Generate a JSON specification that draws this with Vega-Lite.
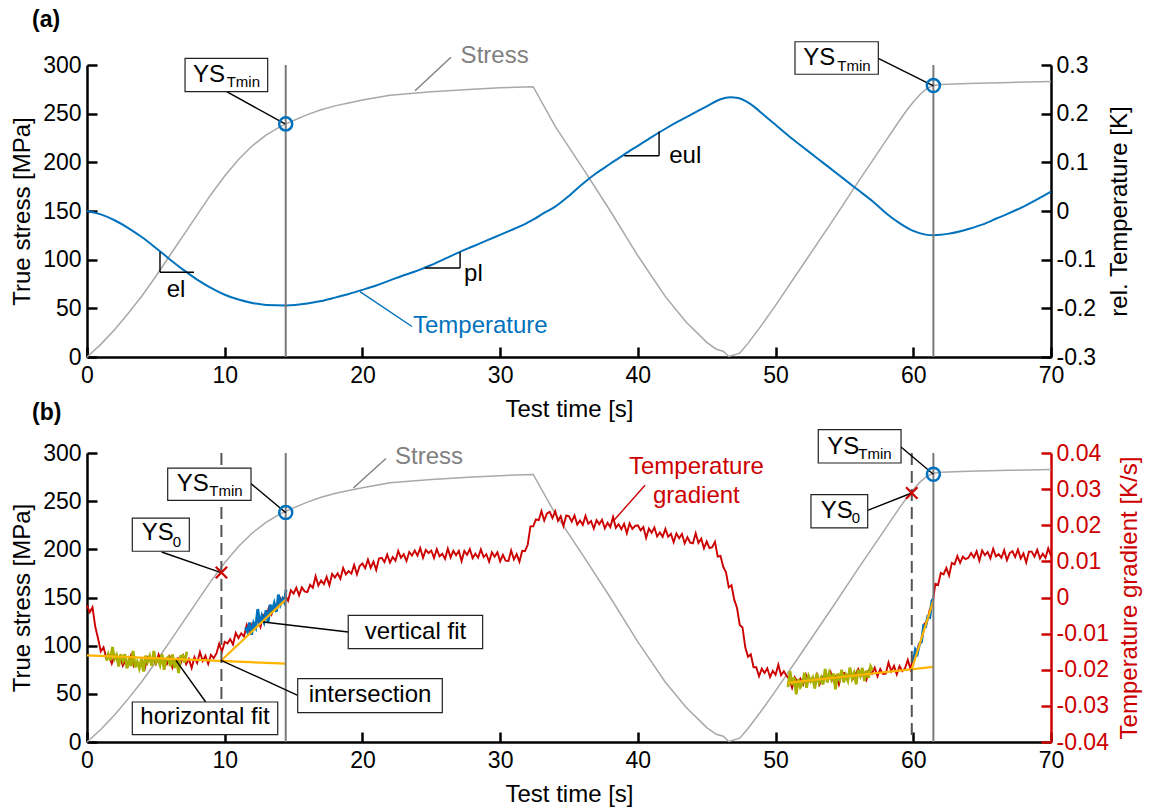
{
  "$schema": "https://vega.github.io/schema/vega-lite/v6.json",
  "autosize": {"type": "pad"},
  "padding": {"left": 10, "top": 9, "right": 5, "bottom": 5},
  "background": "white",
  "config": {
    "font": "Liberation Sans",
    "view": {"stroke": null},
    "axis": {"grid": false, "domainColor": "black", "domainWidth": 2.5, "tickColor": "black", "tickWidth": 2.5, "tickSize": -10, "labelFontSize": 23, "labelColor": "black", "titleFontSize": 24, "titleFontWeight": "normal", "titleColor": "black", "labelFlush": false, "labelOverlap": false},
    "axisX": {"labelPadding": 17, "titlePadding": 10},
    "title": {"fontSize": 23, "fontWeight": "bold", "color": "black", "anchor": "start", "frame": "group"}
  },
  "datasets": {
    "stress": [{"t":0,"s":0},{"t":1,"s":13},{"t":2,"s":28},{"t":3,"s":45},{"t":4,"s":63},{"t":5,"s":83},{"t":6,"s":104},{"t":7,"s":125},{"t":8,"s":146},{"t":9,"s":167},{"t":10,"s":186},{"t":11,"s":203},{"t":12,"s":217},{"t":13,"s":228},{"t":14,"s":236.5},{"t":14.45,"s":239.5},{"t":15,"s":243},{"t":16,"s":249},{"t":17,"s":254},{"t":18,"s":258},{"t":19,"s":261},{"t":20,"s":264},{"t":22,"s":269},{"t":25,"s":272.5},{"t":28,"s":275},{"t":30,"s":276.5},{"t":32.4,"s":277.7},{"t":34,"s":237},{"t":36,"s":194},{"t":38,"s":150},{"t":40,"s":104},{"t":42,"s":62},{"t":43.5,"s":36},{"t":45,"s":15},{"t":45.7,"s":8},{"t":46.2,"s":6},{"t":46.6,"s":0.5},{"t":47.4,"s":4},{"t":48,"s":14},{"t":49,"s":33},{"t":50,"s":53},{"t":52,"s":95},{"t":54,"s":137},{"t":56,"s":180},{"t":58,"s":222},{"t":59,"s":243},{"t":59.5,"s":253},{"t":60,"s":262},{"t":60.5,"s":270},{"t":61,"s":276},{"t":61.46,"s":279},{"t":62,"s":280},{"t":64,"s":281},{"t":67,"s":282},{"t":70,"s":283}],
    "temp": [{"t":0,"T":0},{"t":1,"T":-0.007},{"t":2,"T":-0.019},{"t":3,"T":-0.035},{"t":4,"T":-0.054},{"t":5,"T":-0.076},{"t":6,"T":-0.099},{"t":7,"T":-0.121},{"t":8,"T":-0.141},{"t":9,"T":-0.158},{"t":10,"T":-0.172},{"t":11,"T":-0.182},{"t":12,"T":-0.189},{"t":13,"T":-0.193},{"t":14.45,"T":-0.194},{"t":16,"T":-0.19},{"t":17,"T":-0.185},{"t":18,"T":-0.178},{"t":19,"T":-0.1705},{"t":20,"T":-0.162},{"t":21,"T":-0.153},{"t":22,"T":-0.1425},{"t":23,"T":-0.132},{"t":24,"T":-0.1225},{"t":25,"T":-0.111},{"t":26,"T":-0.098},{"t":27,"T":-0.085},{"t":28,"T":-0.073},{"t":29,"T":-0.061},{"t":30,"T":-0.049},{"t":31,"T":-0.037},{"t":31.8,"T":-0.027},{"t":32.5,"T":-0.016},{"t":33.2,"T":-0.004},{"t":34,"T":0.009},{"t":35,"T":0.031},{"t":36,"T":0.056},{"t":37,"T":0.078},{"t":38,"T":0.097},{"t":39,"T":0.116},{"t":40,"T":0.134},{"t":41,"T":0.152},{"t":42,"T":0.169},{"t":43,"T":0.185},{"t":44,"T":0.2},{"t":45,"T":0.215},{"t":46,"T":0.2295},{"t":46.7,"T":0.2337},{"t":47.3,"T":0.232},{"t":47.9,"T":0.2247},{"t":48.5,"T":0.213},{"t":49,"T":0.201},{"t":50,"T":0.177},{"t":51,"T":0.153},{"t":52,"T":0.131},{"t":53,"T":0.109},{"t":54,"T":0.087},{"t":55,"T":0.065},{"t":56,"T":0.043},{"t":57,"T":0.021},{"t":58,"T":-0.004},{"t":59,"T":-0.025},{"t":60,"T":-0.041},{"t":60.8,"T":-0.048},{"t":61.46,"T":-0.05},{"t":62,"T":-0.049},{"t":62.5,"T":-0.047},{"t":63.5,"T":-0.041},{"t":64,"T":-0.037},{"t":65,"T":-0.028},{"t":66,"T":-0.016},{"t":67,"T":-0.004},{"t":68,"T":0.009},{"t":69,"T":0.024},{"t":70,"T":0.04}],
    "grad": [{"t":0,"g":-0.0022},{"t":0.2,"g":-0.0041},{"t":0.4,"g":-0.0027},{"t":0.6,"g":-0.0081},{"t":0.8,"g":-0.0113},{"t":1,"g":-0.0149},{"t":1.2,"g":-0.0138},{"t":1.4,"g":-0.0167},{"t":1.6,"g":-0.0161},{"t":1.8,"g":-0.0183},{"t":2,"g":-0.0161},{"t":2.2,"g":-0.0174},{"t":2.4,"g":-0.0163},{"t":2.6,"g":-0.0189},{"t":2.8,"g":-0.0174},{"t":3,"g":-0.0187},{"t":3.2,"g":-0.016},{"t":3.4,"g":-0.019},{"t":3.6,"g":-0.0179},{"t":3.8,"g":-0.0191},{"t":4,"g":-0.0173},{"t":4.2,"g":-0.0196},{"t":4.4,"g":-0.0166},{"t":4.6,"g":-0.0177},{"t":4.8,"g":-0.0166},{"t":5,"g":-0.0184},{"t":5.2,"g":-0.0158},{"t":5.4,"g":-0.0179},{"t":5.6,"g":-0.0174},{"t":5.8,"g":-0.0185},{"t":6,"g":-0.0165},{"t":6.2,"g":-0.0194},{"t":6.4,"g":-0.0174},{"t":6.6,"g":-0.0168},{"t":6.8,"g":-0.0183},{"t":7,"g":-0.0161},{"t":7.2,"g":-0.0185},{"t":7.4,"g":-0.017},{"t":7.6,"g":-0.0195},{"t":7.8,"g":-0.0165},
{"t":8,"g":-0.0181},{"t":8.2,"g":-0.0151},{"t":8.4,"g":-0.0176},{"t":8.6,"g":-0.0161},{"t":8.8,"g":-0.0184},{"t":9,"g":-0.0159},{"t":9.2,"g":-0.0168},{"t":9.4,"g":-0.0155},{"t":9.6,"g":-0.0128},{"t":9.8,"g":-0.015},{"t":10,"g":-0.0123},{"t":10.2,"g":-0.0127},{"t":10.4,"g":-0.0115},{"t":10.6,"g":-0.013},{"t":10.8,"g":-0.0098},{"t":11,"g":-0.0112},{"t":11.2,"g":-0.0099},{"t":11.4,"g":-0.0108},{"t":11.6,"g":-0.0076},{"t":11.8,"g":-0.0095},{"t":12,"g":-0.0072},{"t":12.2,"g":-0.0078},{"t":12.4,"g":-0.006},{"t":12.6,"g":-0.0082},{"t":12.8,"g":-0.0048},{"t":13,"g":-0.0052},{"t":13.2,"g":-0.0029},{"t":13.4,"g":-0.0047},{"t":13.6,"g":-0.0028},{"t":13.8,"g":-0.0032},{"t":14,"g":0},{"t":14.2,"g":-0.0012},{"t":14.4,"g":0.0006},{"t":14.6,"g":-0.0009},{"t":14.8,"g":0.002},{"t":15,"g":0.0011},{"t":15.2,"g":0.0027},{"t":15.4,"g":0.0006},{"t":15.6,"g":0.0028},{"t":15.8,"g":0.0017},
{"t":16,"g":0.0015},{"t":16.2,"g":0.0035},{"t":16.4,"g":0.0027},{"t":16.6,"g":0.0059},{"t":16.8,"g":0.0033},{"t":17,"g":0.0047},{"t":17.2,"g":0.0037},{"t":17.4,"g":0.0057},{"t":17.6,"g":0.0034},{"t":17.8,"g":0.0065},{"t":18,"g":0.0055},{"t":18.2,"g":0.0067},{"t":18.4,"g":0.0052},{"t":18.6,"g":0.0082},{"t":18.8,"g":0.0064},{"t":19,"g":0.0073},{"t":19.2,"g":0.0066},{"t":19.4,"g":0.009},{"t":19.6,"g":0.0064},{"t":19.8,"g":0.0087},{"t":20,"g":0.0094},{"t":20.2,"g":0.0081},{"t":20.4,"g":0.0105},{"t":20.6,"g":0.0082},{"t":20.8,"g":0.0099},{"t":21,"g":0.0076},{"t":21.2,"g":0.0108},{"t":21.4,"g":0.011},{"t":21.6,"g":0.0098},{"t":21.8,"g":0.0119},{"t":22,"g":0.0097},{"t":22.2,"g":0.0112},{"t":22.4,"g":0.0102},{"t":22.6,"g":0.0129},{"t":22.8,"g":0.011},{"t":23,"g":0.012},{"t":23.2,"g":0.0101},{"t":23.4,"g":0.0126},{"t":23.6,"g":0.0116},{"t":23.8,"g":0.013},
{"t":24,"g":0.0116},{"t":24.2,"g":0.0137},{"t":24.4,"g":0.011},{"t":24.6,"g":0.0132},{"t":24.8,"g":0.0123},{"t":25,"g":0.013},{"t":25.2,"g":0.0109},{"t":25.4,"g":0.0134},{"t":25.6,"g":0.0114},{"t":25.8,"g":0.0121},{"t":26,"g":0.0107},{"t":26.2,"g":0.0135},{"t":26.4,"g":0.0111},{"t":26.6,"g":0.0129},{"t":26.8,"g":0.0117},{"t":27,"g":0.0129},{"t":27.2,"g":0.0101},{"t":27.4,"g":0.0129},{"t":27.6,"g":0.0118},{"t":27.8,"g":0.0134},{"t":28,"g":0.0109},{"t":28.2,"g":0.0121},{"t":28.4,"g":0.011},{"t":28.6,"g":0.0133},{"t":28.8,"g":0.0112},{"t":29,"g":0.012},{"t":29.2,"g":0.0099},{"t":29.4,"g":0.0125},{"t":29.6,"g":0.0113},{"t":29.8,"g":0.0125},{"t":30,"g":0.01},{"t":30.2,"g":0.0118},{"t":30.4,"g":0.0102},{"t":30.6,"g":0.0101},{"t":30.8,"g":0.013},{"t":31,"g":0.0105},{"t":31.2,"g":0.012},{"t":31.4,"g":0.0099},{"t":31.6,"g":0.0129},{"t":31.8,"g":0.0128},
{"t":32,"g":0.0146},{"t":32.2,"g":0.0197},{"t":32.4,"g":0.0197},{"t":32.6,"g":0.0216},{"t":32.8,"g":0.0214},{"t":33,"g":0.0239},{"t":33.2,"g":0.0213},{"t":33.4,"g":0.0233},{"t":33.6,"g":0.0237},{"t":33.8,"g":0.022},{"t":34,"g":0.0239},{"t":34.2,"g":0.0212},{"t":34.4,"g":0.0225},{"t":34.6,"g":0.0198},{"t":34.8,"g":0.0227},{"t":35,"g":0.0225},{"t":35.2,"g":0.021},{"t":35.4,"g":0.0227},{"t":35.6,"g":0.0202},{"t":35.8,"g":0.0213},{"t":36,"g":0.0201},{"t":36.2,"g":0.0226},{"t":36.4,"g":0.0204},{"t":36.6,"g":0.0212},{"t":36.8,"g":0.0191},{"t":37,"g":0.0214},{"t":37.2,"g":0.0203},{"t":37.4,"g":0.0215},{"t":37.6,"g":0.0191},{"t":37.8,"g":0.0207},{"t":38,"g":0.0195},{"t":38.2,"g":0.0223},{"t":38.4,"g":0.0193},{"t":38.6,"g":0.0203},{"t":38.8,"g":0.0189},{"t":39,"g":0.0204},{"t":39.2,"g":0.0178},{"t":39.4,"g":0.0205},{"t":39.6,"g":0.019},{"t":39.8,"g":0.0198},
{"t":40,"g":0.02},{"t":40.2,"g":0.0186},{"t":40.4,"g":0.0195},{"t":40.6,"g":0.0165},{"t":40.8,"g":0.0191},{"t":41,"g":0.0179},{"t":41.2,"g":0.0194},{"t":41.4,"g":0.0169},{"t":41.6,"g":0.018},{"t":41.8,"g":0.0168},{"t":42,"g":0.019},{"t":42.2,"g":0.0168},{"t":42.4,"g":0.0176},{"t":42.6,"g":0.0153},{"t":42.8,"g":0.0177},{"t":43,"g":0.0164},{"t":43.2,"g":0.0176},{"t":43.4,"g":0.015},{"t":43.6,"g":0.0167},{"t":43.8,"g":0.0152},{"t":44,"g":0.015},{"t":44.2,"g":0.0178},{"t":44.4,"g":0.0151},{"t":44.6,"g":0.0163},{"t":44.8,"g":0.0136},{"t":45,"g":0.0155},{"t":45.2,"g":0.0137},{"t":45.4,"g":0.0139},{"t":45.6,"g":0.0154},{"t":45.8,"g":0.0113},{"t":46,"g":0.0115},{"t":46.2,"g":0.0085},{"t":46.4,"g":0.007},{"t":46.6,"g":0.0028},{"t":46.8,"g":0.0034},{"t":47,"g":-0.0006},{"t":47.2,"g":-0.0029},{"t":47.4,"g":-0.0076},{"t":47.6,"g":-0.0083},{"t":47.8,"g":-0.0138},
{"t":48,"g":-0.0164},{"t":48.2,"g":-0.0157},{"t":48.4,"g":-0.0193},{"t":48.6,"g":-0.0193},{"t":48.8,"g":-0.0218},{"t":49,"g":-0.0197},{"t":49.2,"g":-0.0209},{"t":49.4,"g":-0.0196},{"t":49.6,"g":-0.022},{"t":49.8,"g":-0.0203},{"t":50,"g":-0.0214},{"t":50.2,"g":-0.0186},{"t":50.4,"g":-0.0215},{"t":50.6,"g":-0.0204},{"t":50.8,"g":-0.0217},{"t":51,"g":-0.0226},{"t":51.2,"g":-0.025},{"t":51.4,"g":-0.0221},{"t":51.6,"g":-0.0233},{"t":51.8,"g":-0.0224},{"t":52,"g":-0.0241},{"t":52.2,"g":-0.0213},{"t":52.4,"g":-0.0233},{"t":52.6,"g":-0.0226},{"t":52.8,"g":-0.0235},{"t":53,"g":-0.0213},{"t":53.2,"g":-0.024},{"t":53.4,"g":-0.022},{"t":53.6,"g":-0.0214},{"t":53.8,"g":-0.0229},{"t":54,"g":-0.0207},{"t":54.2,"g":-0.0231},{"t":54.4,"g":-0.0217},{"t":54.6,"g":-0.0241},{"t":54.8,"g":-0.021},{"t":55,"g":-0.0209},{"t":55.2,"g":-0.0222},{"t":55.4,"g":-0.0203},{"t":55.6,"g":-0.0226},{"t":55.8,"g":-0.0212},
{"t":56,"g":-0.0198},{"t":56.2,"g":-0.0217},{"t":56.4,"g":-0.0208},{"t":56.6,"g":-0.0228},{"t":56.8,"g":-0.0201},{"t":57,"g":-0.0211},{"t":57.2,"g":-0.0194},{"t":57.4,"g":-0.0218},{"t":57.6,"g":-0.0198},{"t":57.8,"g":-0.0212},{"t":58,"g":-0.0211},{"t":58.2,"g":-0.018},{"t":58.4,"g":-0.0204},{"t":58.6,"g":-0.0189},{"t":58.8,"g":-0.0213},{"t":59,"g":-0.019},{"t":59.2,"g":-0.0204},{"t":59.4,"g":-0.0196},{"t":59.6,"g":-0.0173},{"t":59.8,"g":-0.0198},{"t":60,"g":-0.0163},{"t":60.2,"g":-0.0156},{"t":60.4,"g":-0.013},{"t":60.6,"g":-0.0123},{"t":60.8,"g":-0.0073},{"t":61,"g":-0.0066},{"t":61.2,"g":-0.0033},{"t":61.4,"g":-0.0018},{"t":61.6,"g":0.0038},{"t":61.8,"g":0.0035},{"t":62,"g":0.0068},{"t":62.2,"g":0.0064},{"t":62.4,"g":0.0082},{"t":62.6,"g":0.0061},{"t":62.8,"g":0.0096},{"t":63,"g":0.0092},{"t":63.2,"g":0.0115},{"t":63.4,"g":0.0096},{"t":63.6,"g":0.0113},{"t":63.8,"g":0.0106},
{"t":64,"g":0.011},{"t":64.2,"g":0.0123},{"t":64.4,"g":0.0111},{"t":64.6,"g":0.0128},{"t":64.8,"g":0.0102},{"t":65,"g":0.013},{"t":65.2,"g":0.0117},{"t":65.4,"g":0.0126},{"t":65.6,"g":0.0108},{"t":65.8,"g":0.0135},{"t":66,"g":0.0114},{"t":66.2,"g":0.012},{"t":66.4,"g":0.011},{"t":66.6,"g":0.0131},{"t":66.8,"g":0.0103},{"t":67,"g":0.0123},{"t":67.2,"g":0.0128},{"t":67.4,"g":0.0112},{"t":67.6,"g":0.0133},{"t":67.8,"g":0.0108},{"t":68,"g":0.0122},{"t":68.2,"g":0.0097},{"t":68.4,"g":0.0127},{"t":68.6,"g":0.0127},{"t":68.8,"g":0.0113},{"t":69,"g":0.0132},{"t":69.2,"g":0.0108},{"t":69.4,"g":0.0121},{"t":69.6,"g":0.011},{"t":69.8,"g":0.0136},{"t":70,"g":0.0115}],
    "green": [{"seg":"L","t":1.4,"g":-0.0175},{"seg":"L","t":1.55,"g":-0.0157},{"seg":"L","t":1.7,"g":-0.0174},{"seg":"L","t":1.85,"g":-0.0137},{"seg":"L","t":2.0,"g":-0.017},{"seg":"L","t":2.15,"g":-0.0159},{"seg":"L","t":2.3,"g":-0.0191},{"seg":"L","t":2.45,"g":-0.0157},{"seg":"L","t":2.6,"g":-0.0175},{"seg":"L","t":2.75,"g":-0.0157},{"seg":"L","t":2.9,"g":-0.0196},{"seg":"L","t":3.05,"g":-0.0172},{"seg":"L","t":3.2,"g":-0.019},{"seg":"L","t":3.35,"g":-0.0148},{"seg":"L","t":3.5,"g":-0.0193},{"seg":"L","t":3.65,"g":-0.0178},{"seg":"L","t":3.8,"g":-0.0196},{"seg":"L","t":3.95,"g":-0.017},{"seg":"L","t":4.1,"g":-0.0205},{"seg":"L","t":4.25,"g":-0.0161},{"seg":"L","t":4.4,"g":-0.0179},{"seg":"L","t":4.55,"g":-0.0163},{"seg":"L","t":4.7,"g":-0.0189},{"seg":"L","t":4.85,"g":-0.0148},{"seg":"L","t":5.0,"g":-0.018},{"seg":"L","t":5.15,"g":-0.0171},{"seg":"L","t":5.3,"g":-0.0187},{"seg":"L","t":5.45,"g":-0.0157},{"seg":"L","t":5.6,"g":-0.02},{"seg":"L","t":5.75,"g":-0.0171},{"seg":"L","t":5.9,"g":-0.0165},{"seg":"L","t":6.05,"g":-0.019},{"seg":"L","t":6.2,"g":-0.0158},{"seg":"L","t":6.35,"g":-0.0195},{"seg":"L","t":6.5,"g":-0.0173},{"seg":"L","t":6.65,"g":-0.0209},{"seg":"L","t":6.8,"g":-0.0163},{"seg":"L","t":6.95,"g":-0.0161},{"seg":"L","t":7.1,"g":-0.018},{"seg":"L","t":7.25,"g":-0.015},
{"seg":"R","t":50.9,"g":-0.0248},{"seg":"R","t":51.05,"g":-0.0204},{"seg":"R","t":51.2,"g":-0.0242},{"seg":"R","t":51.35,"g":-0.0221},{"seg":"R","t":51.5,"g":-0.0268},{"seg":"R","t":51.65,"g":-0.0226},{"seg":"R","t":51.8,"g":-0.0248},{"seg":"R","t":51.95,"g":-0.0239},{"seg":"R","t":52.1,"g":-0.0208},{"seg":"R","t":52.25,"g":-0.025},{"seg":"R","t":52.4,"g":-0.0218},{"seg":"R","t":52.55,"g":-0.0232},{"seg":"R","t":52.7,"g":-0.0222},{"seg":"R","t":52.85,"g":-0.0252},{"seg":"R","t":53.0,"g":-0.021},{"seg":"R","t":53.15,"g":-0.0236},{"seg":"R","t":53.3,"g":-0.0222},{"seg":"R","t":53.45,"g":-0.0241},{"seg":"R","t":53.6,"g":-0.0198},{"seg":"R","t":53.75,"g":-0.0235},{"seg":"R","t":53.9,"g":-0.0209},{"seg":"R","t":54.05,"g":-0.0227},{"seg":"R","t":54.2,"g":-0.021},{"seg":"R","t":54.35,"g":-0.0254},{"seg":"R","t":54.5,"g":-0.0211},{"seg":"R","t":54.65,"g":-0.0226},{"seg":"R","t":54.8,"g":-0.02},{"seg":"R","t":54.95,"g":-0.0235},{"seg":"R","t":55.1,"g":-0.0215},{"seg":"R","t":55.25,"g":-0.023},{"seg":"R","t":55.4,"g":-0.0194},{"seg":"R","t":55.55,"g":-0.0224},{"seg":"R","t":55.7,"g":-0.0209},{"seg":"R","t":55.85,"g":-0.024},{"seg":"R","t":56.0,"g":-0.02},{"seg":"R","t":56.15,"g":-0.0216},{"seg":"R","t":56.3,"g":-0.0195},{"seg":"R","t":56.45,"g":-0.0231},{"seg":"R","t":56.6,"g":-0.0202},{"seg":"R","t":56.75,"g":-0.0222},{"seg":"R","t":56.9,"g":-0.0191},{"seg":"R","t":57.05,"g":-0.0202}],
    "blue": [{"seg":"L","t":11.5,"g":-0.0083},{"seg":"L","t":11.65,"g":-0.0095},{"seg":"L","t":11.8,"g":-0.0069},{"seg":"L","t":11.95,"g":-0.0103},{"seg":"L","t":12.1,"g":-0.0071},{"seg":"L","t":12.25,"g":-0.0083},{"seg":"L","t":12.4,"g":-0.0032},{"seg":"L","t":12.55,"g":-0.0074},{"seg":"L","t":12.7,"g":-0.0051},{"seg":"L","t":12.85,"g":-0.0067},{"seg":"L","t":13.0,"g":-0.0035},{"seg":"L","t":13.15,"g":-0.007},{"seg":"L","t":13.3,"g":-0.002},{"seg":"L","t":13.45,"g":-0.0036},{"seg":"L","t":13.6,"g":-0.0016},{"seg":"L","t":13.75,"g":-0.004},{"seg":"L","t":13.9,"g":0.0008},{"seg":"L","t":14.05,"g":-0.0019},{"seg":"L","t":14.2,"g":-0.0004},{"seg":"L","t":14.35,"g":-0.0015},{"seg":"L","t":14.45,"g":0.0022},
{"seg":"R","t":59.85,"g":-0.0177},{"seg":"R","t":60.0,"g":-0.0178},{"seg":"R","t":60.15,"g":-0.0145},{"seg":"R","t":60.3,"g":-0.0155},{"seg":"R","t":60.45,"g":-0.0128},{"seg":"R","t":60.6,"g":-0.0122},{"seg":"R","t":60.75,"g":-0.0078},{"seg":"R","t":60.9,"g":-0.008},{"seg":"R","t":61.05,"g":-0.0053},{"seg":"R","t":61.2,"g":-0.0055},{"seg":"R","t":61.35,"g":-0.0009},{"seg":"R","t":61.46,"g":-0.0004}],
    "fits": [{"t1":0,"g1":-0.016,"t2":14.43,"g2":-0.0183},{"t1":9.73,"g1":-0.0175,"t2":14.43,"g2":-0.0006},{"t1":50.9,"g1":-0.0236,"t2":61.46,"g2":-0.0192},{"t1":59.89,"g1":-0.0199,"t2":61.46,"g2":-0.0008}],
    "vlines": [{"p":"a","k":"solid","t":14.43},{"p":"a","k":"solid","t":61.46},{"p":"b","k":"solid","t":14.43},{"p":"b","k":"solid","t":61.46},{"p":"b","k":"dashed","t":9.76},{"p":"b","k":"dashed","t":59.89}],
    "boxes": [{"p":"a","t1":7.12,"t2":13.12,"s1":272.6,"s2":306.9},{"p":"a","t1":51.41,"t2":57.46,"s1":290.5,"s2":323.9},{"p":"b","t1":5.86,"t2":11.91,"s1":250.9,"s2":284.4},{"p":"b","t1":3.29,"t2":7.43,"s1":198,"s2":232.5},{"p":"b","t1":18.97,"t2":28.73,"s1":97.0,"s2":131.5},{"p":"b","t1":15.3,"t2":25.8,"s1":30.5,"s2":65.8},{"p":"b","t1":3.29,"t2":13.85,"s1":7.7,"s2":41.5},{"p":"b","t1":53.1,"t2":59.11,"s1":289.6,"s2":324.3},{"p":"b","t1":52.57,"t2":56.69,"s1":222.2,"s2":256.8}],
    "leaders": [{"p":"a","c":"box","t1":10.14,"s1":272.6,"t2":14.38,"s2":239.5},{"p":"a","c":"box","t1":57.46,"s1":306.9,"t2":61.46,"s2":278.5},{"p":"a","c":"box","t1":5.3,"s1":107.9,"t2":5.3,"s2":87.0},{"p":"a","c":"box","t1":5.3,"s1":87.0,"t2":7.77,"s2":87.0},{"p":"a","c":"box","t1":24.54,"s1":91.5,"t2":27.09,"s2":91.5},{"p":"a","c":"box","t1":27.09,"s1":91.5,"t2":27.09,"s2":107.9},{"p":"a","c":"box","t1":39.02,"s1":206.7,"t2":41.54,"s2":206.7},{"p":"a","c":"box","t1":41.54,"s1":206.7,"t2":41.54,"s2":231.6},{"p":"a","c":"stress","t1":23.82,"s1":273.6,"t2":26.43,"s2":307.9},{"p":"a","c":"temp","t1":19.82,"s1":67.2,"t2":23.6,"s2":31.3},
{"p":"b","c":"box","t1":11.91,"s1":268.2,"t2":14.43,"s2":238.1},{"p":"b","c":"box","t1":5.42,"s1":197.2,"t2":9.73,"s2":175.9},{"p":"b","c":"box","t1":12.8,"s1":124.6,"t2":18.97,"s2":114.2},{"p":"b","c":"box","t1":9.73,"s1":84.8,"t2":15.3,"s2":48.5},{"p":"b","c":"box","t1":6.46,"s1":84.8,"t2":8.62,"s2":41.5},{"p":"b","c":"box","t1":59.11,"s1":306.2,"t2":61.46,"s2":277.9},{"p":"b","c":"box","t1":56.69,"s1":240.5,"t2":59.89,"s2":258.5},{"p":"b","c":"stress","t1":19.34,"s1":263.7,"t2":21.71,"s2":294.2},{"p":"b","c":"grad","t1":40.52,"s1":266.5,"t2":38.22,"s2":229.4}],
    "labels": [{"p":"a","k":"big","c":"box","t":7.7,"s":282.9,"txt":"YS"},{"p":"a","k":"sub","c":"box","t":10.14,"s":277.1,"txt":"Tmin"},{"p":"a","k":"big","c":"box","t":52.01,"s":300,"txt":"YS"},{"p":"a","k":"sub","c":"box","t":54.48,"s":294.2,"txt":"Tmin"},{"p":"a","k":"big","c":"box","t":5.79,"s":61.3,"txt":"el"},{"p":"a","k":"big","c":"box","t":27.38,"s":77.7,"txt":"pl"},{"p":"a","k":"big","c":"box","t":42.28,"s":199.2,"txt":"eul"},{"p":"a","k":"big","c":"stress","t":27.13,"s":301.7,"txt":"Stress"},{"p":"a","k":"big","c":"temp","t":23.67,"s":24.6,"txt":"Temperature"},
{"p":"b","k":"big","c":"box","t":6.51,"s":260.6,"txt":"YS"},{"p":"b","k":"sub","c":"box","t":8.88,"s":255.1,"txt":"Tmin"},{"p":"b","k":"big","c":"box","t":3.97,"s":209.4,"txt":"YS"},{"p":"b","k":"sub","c":"box","t":6.22,"s":202.4,"txt":"0"},{"p":"b","k":"big","c":"box","t":53.76,"s":299.4,"txt":"YS"},{"p":"b","k":"sub","c":"box","t":56.01,"s":293.5,"txt":"Tmin"},{"p":"b","k":"big","c":"box","t":53.28,"s":232.9,"txt":"YS"},{"p":"b","k":"sub","c":"box","t":55.53,"s":227.3,"txt":"0"},{"p":"b","k":"big","c":"stress","t":22.37,"s":289.0,"txt":"Stress"},{"p":"b","k":"center","c":"box","t":23.85,"s":107.3,"txt":"vertical fit"},{"p":"b","k":"center","c":"box","t":20.55,"s":41.5,"txt":"intersection"},{"p":"b","k":"center","c":"box","t":8.57,"s":18.4,"txt":"horizontal fit"},{"p":"b","k":"center","c":"grad","t":44.25,"s":277.9,"txt":["Temperature","gradient"]}],
    "points": [{"p":"a","k":"circle","t":14.43,"s":239.5},{"p":"a","k":"circle","t":61.46,"s":279},{"p":"b","k":"circle","t":14.43,"s":238.3},{"p":"b","k":"circle","t":61.46,"s":278},{"p":"b","k":"cross","t":9.76,"s":176},{"p":"b","k":"cross","t":59.89,"s":258.5}]
  },
  "spacing": 96,
  "bounds": "flush",
  "vconcat": [
    {
      "width": 964, "height": 292,
      "title": {"text": "(a)", "dx": -55, "offset": 9},
      "resolve": {"scale": {"y": "independent"}},
      "layer": [
        {"data": {"name": "stress"}, "mark": {"type": "line", "color": "#A8A8A8", "strokeWidth": 1.5},
         "encoding": {
           "x": {"field": "t", "type": "quantitative", "scale": {"domain": [0, 70], "nice": false}, "axis": {"title": "Test time [s]", "values": [0,10,20,30,40,50,60,70]}},
           "y": {"field": "s", "type": "quantitative", "scale": {"domain": [0, 300], "nice": false}, "axis": {"orient": "left", "title": "True stress [MPa]", "values": [0,50,100,150,200,250,300], "labelPadding": 16, "titlePadding": 8}}}},
        {"data": {"name": "temp"}, "mark": {"type": "line", "color": "#0072BD", "strokeWidth": 2, "interpolate": "monotone"},
         "encoding": {
           "x": {"field": "t", "type": "quantitative", "scale": {"domain": [0, 70], "nice": false}, "axis": {"title": "Test time [s]", "values": [0,10,20,30,40,50,60,70]}},
           "y": {"field": "T", "type": "quantitative", "scale": {"domain": [-0.3, 0.3], "nice": false}, "axis": {"orient": "right", "title": "rel. Temperature [K]", "values": [-0.3,-0.2,-0.1,0,0.1,0.2,0.3], "labelExpr": "datum.value == 0 ? '0' : (datum.value < 0 ? '-' : '') + format(abs(datum.value), '.1f')", "labelPadding": 15, "titlePadding": 36, "titleAngle": 270}}}},
        {"data": {"name": "vlines"}, "transform": [{"filter": "datum.p == 'a'"}], "mark": {"type": "rule", "color": "#7A7A7A", "strokeWidth": 2},
         "encoding": {"x": {"field": "t", "type": "quantitative", "scale": {"domain": [0, 70], "nice": false}, "axis": {"title": "Test time [s]", "values": [0,10,20,30,40,50,60,70]}}}},
        {"data": {"name": "leaders"}, "transform": [{"filter": "datum.p == 'a'"}], "mark": {"type": "rule", "strokeWidth": 1.4},
         "encoding": {
           "x": {"field": "t1", "type": "quantitative", "scale": {"domain": [0, 70], "nice": false}, "axis": {"title": "Test time [s]", "values": [0,10,20,30,40,50,60,70]}}, "x2": {"field": "t2"},
           "y": {"field": "s1", "type": "quantitative", "scale": {"domain": [0, 300], "nice": false}, "axis": null}, "y2": {"field": "s2"},
           "color": {"field": "c", "type": "nominal", "scale": {"domain": ["box","stress","temp","grad"], "range": ["#000000","#808080","#0072BD","#CC0000"]}, "legend": null}}},
        {"data": {"name": "boxes"}, "transform": [{"filter": "datum.p == 'a'"}], "mark": {"type": "rect", "fill": "white", "stroke": "#222222", "strokeWidth": 1.2},
         "encoding": {
           "x": {"field": "t1", "type": "quantitative", "scale": {"domain": [0, 70], "nice": false}, "axis": {"title": "Test time [s]", "values": [0,10,20,30,40,50,60,70]}}, "x2": {"field": "t2"},
           "y": {"field": "s1", "type": "quantitative", "scale": {"domain": [0, 300], "nice": false}, "axis": null}, "y2": {"field": "s2"}}},
        {"data": {"name": "labels"}, "transform": [{"filter": "datum.p == 'a' && datum.k == 'big'"}], "mark": {"type": "text", "fontSize": 24, "align": "left", "baseline": "alphabetic"},
         "encoding": {
           "x": {"field": "t", "type": "quantitative", "scale": {"domain": [0, 70], "nice": false}, "axis": {"title": "Test time [s]", "values": [0,10,20,30,40,50,60,70]}},
           "y": {"field": "s", "type": "quantitative", "scale": {"domain": [0, 300], "nice": false}, "axis": null},
           "text": {"field": "txt"},
           "color": {"field": "c", "type": "nominal", "scale": {"domain": ["box","stress","temp","grad"], "range": ["#000000","#808080","#0072BD","#CC0000"]}, "legend": null}}},
        {"data": {"name": "labels"}, "transform": [{"filter": "datum.p == 'a' && datum.k == 'sub'"}], "mark": {"type": "text", "fontSize": 15, "align": "left", "baseline": "alphabetic", "color": "black"},
         "encoding": {
           "x": {"field": "t", "type": "quantitative", "scale": {"domain": [0, 70], "nice": false}, "axis": {"title": "Test time [s]", "values": [0,10,20,30,40,50,60,70]}},
           "y": {"field": "s", "type": "quantitative", "scale": {"domain": [0, 300], "nice": false}, "axis": null},
           "text": {"field": "txt"}}},
        {"data": {"name": "points"}, "transform": [{"filter": "datum.p == 'a'"}], "mark": {"type": "point", "shape": "circle", "size": 170, "filled": false, "stroke": "#0072BD", "strokeWidth": 2.5, "opacity": 1},
         "encoding": {
           "x": {"field": "t", "type": "quantitative", "scale": {"domain": [0, 70], "nice": false}, "axis": {"title": "Test time [s]", "values": [0,10,20,30,40,50,60,70]}},
           "y": {"field": "s", "type": "quantitative", "scale": {"domain": [0, 300], "nice": false}, "axis": null}}}
      ]
    },
    {
      "width": 964, "height": 289,
      "title": {"text": "(b)", "dx": -55, "offset": 4},
      "resolve": {"scale": {"y": "independent"}},
      "layer": [
        {"data": {"name": "stress"}, "mark": {"type": "line", "color": "#A8A8A8", "strokeWidth": 1.5},
         "encoding": {
           "x": {"field": "t", "type": "quantitative", "scale": {"domain": [0, 70], "nice": false}, "axis": {"title": "Test time [s]", "values": [0,10,20,30,40,50,60,70]}},
           "y": {"field": "s", "type": "quantitative", "scale": {"domain": [0, 300], "nice": false}, "axis": {"orient": "left", "title": "True stress [MPa]", "values": [0,50,100,150,200,250,300], "labelPadding": 16, "titlePadding": 8}}}},
        {"data": {"name": "grad"}, "mark": {"type": "line", "color": "#CC0000", "strokeWidth": 1.9},
         "encoding": {
           "x": {"field": "t", "type": "quantitative", "scale": {"domain": [0, 70], "nice": false}, "axis": {"title": "Test time [s]", "values": [0,10,20,30,40,50,60,70]}},
           "y": {"field": "g", "type": "quantitative", "scale": {"domain": [-0.04, 0.04], "nice": false}, "axis": {"orient": "right", "title": "Temperature gradient [K/s]", "values": [-0.04,-0.03,-0.02,-0.01,0,0.01,0.02,0.03,0.04], "labelExpr": "datum.value == 0 ? '0' : (datum.value < 0 ? '-' : '') + format(abs(datum.value), '.2f')", "domainColor": "#CC0000", "tickColor": "#CC0000", "labelColor": "#CC0000", "titleColor": "#CC0000", "labelPadding": 15, "titlePadding": 33, "titleAngle": 270}}}},
        {"data": {"name": "green"}, "mark": {"type": "line", "color": "#A8B000", "strokeWidth": 2.8},
         "encoding": {
           "x": {"field": "t", "type": "quantitative", "scale": {"domain": [0, 70], "nice": false}, "axis": {"title": "Test time [s]", "values": [0,10,20,30,40,50,60,70]}},
           "y": {"field": "g", "type": "quantitative", "scale": {"domain": [-0.04, 0.04], "nice": false}, "axis": null},
           "detail": {"field": "seg"}}},
        {"data": {"name": "blue"}, "mark": {"type": "line", "color": "#0072BD", "strokeWidth": 2.8},
         "encoding": {
           "x": {"field": "t", "type": "quantitative", "scale": {"domain": [0, 70], "nice": false}, "axis": {"title": "Test time [s]", "values": [0,10,20,30,40,50,60,70]}},
           "y": {"field": "g", "type": "quantitative", "scale": {"domain": [-0.04, 0.04], "nice": false}, "axis": null},
           "detail": {"field": "seg"}}},
        {"data": {"name": "fits"}, "mark": {"type": "rule", "color": "#FFB400", "strokeWidth": 2.2},
         "encoding": {
           "x": {"field": "t1", "type": "quantitative", "scale": {"domain": [0, 70], "nice": false}, "axis": {"title": "Test time [s]", "values": [0,10,20,30,40,50,60,70]}}, "x2": {"field": "t2"},
           "y": {"field": "g1", "type": "quantitative", "scale": {"domain": [-0.04, 0.04], "nice": false}, "axis": null}, "y2": {"field": "g2"}}},
        {"data": {"name": "vlines"}, "transform": [{"filter": "datum.p == 'b' && datum.k == 'solid'"}], "mark": {"type": "rule", "color": "#7A7A7A", "strokeWidth": 2},
         "encoding": {"x": {"field": "t", "type": "quantitative", "scale": {"domain": [0, 70], "nice": false}, "axis": {"title": "Test time [s]", "values": [0,10,20,30,40,50,60,70]}}}},
        {"data": {"name": "vlines"}, "transform": [{"filter": "datum.p == 'b' && datum.k == 'dashed'"}], "mark": {"type": "rule", "color": "#555555", "strokeWidth": 2, "strokeDash": [12, 6]},
         "encoding": {"x": {"field": "t", "type": "quantitative", "scale": {"domain": [0, 70], "nice": false}, "axis": {"title": "Test time [s]", "values": [0,10,20,30,40,50,60,70]}}}},
        {"data": {"name": "leaders"}, "transform": [{"filter": "datum.p == 'b'"}], "mark": {"type": "rule", "strokeWidth": 1.4},
         "encoding": {
           "x": {"field": "t1", "type": "quantitative", "scale": {"domain": [0, 70], "nice": false}, "axis": {"title": "Test time [s]", "values": [0,10,20,30,40,50,60,70]}}, "x2": {"field": "t2"},
           "y": {"field": "s1", "type": "quantitative", "scale": {"domain": [0, 300], "nice": false}, "axis": null}, "y2": {"field": "s2"},
           "color": {"field": "c", "type": "nominal", "scale": {"domain": ["box","stress","temp","grad"], "range": ["#000000","#808080","#0072BD","#CC0000"]}, "legend": null}}},
        {"data": {"name": "boxes"}, "transform": [{"filter": "datum.p == 'b'"}], "mark": {"type": "rect", "fill": "white", "stroke": "#222222", "strokeWidth": 1.2},
         "encoding": {
           "x": {"field": "t1", "type": "quantitative", "scale": {"domain": [0, 70], "nice": false}, "axis": {"title": "Test time [s]", "values": [0,10,20,30,40,50,60,70]}}, "x2": {"field": "t2"},
           "y": {"field": "s1", "type": "quantitative", "scale": {"domain": [0, 300], "nice": false}, "axis": null}, "y2": {"field": "s2"}}},
        {"data": {"name": "labels"}, "transform": [{"filter": "datum.p == 'b' && datum.k == 'big'"}], "mark": {"type": "text", "fontSize": 24, "align": "left", "baseline": "alphabetic"},
         "encoding": {
           "x": {"field": "t", "type": "quantitative", "scale": {"domain": [0, 70], "nice": false}, "axis": {"title": "Test time [s]", "values": [0,10,20,30,40,50,60,70]}},
           "y": {"field": "s", "type": "quantitative", "scale": {"domain": [0, 300], "nice": false}, "axis": null},
           "text": {"field": "txt"},
           "color": {"field": "c", "type": "nominal", "scale": {"domain": ["box","stress","temp","grad"], "range": ["#000000","#808080","#0072BD","#CC0000"]}, "legend": null}}},
        {"data": {"name": "labels"}, "transform": [{"filter": "datum.p == 'b' && datum.k == 'sub'"}], "mark": {"type": "text", "fontSize": 15, "align": "left", "baseline": "alphabetic", "color": "black"},
         "encoding": {
           "x": {"field": "t", "type": "quantitative", "scale": {"domain": [0, 70], "nice": false}, "axis": {"title": "Test time [s]", "values": [0,10,20,30,40,50,60,70]}},
           "y": {"field": "s", "type": "quantitative", "scale": {"domain": [0, 300], "nice": false}, "axis": null},
           "text": {"field": "txt"}}},
        {"data": {"name": "labels"}, "transform": [{"filter": "datum.p == 'b' && datum.k == 'center'"}], "mark": {"type": "text", "fontSize": 24, "align": "center", "baseline": "alphabetic", "lineHeight": 29},
         "encoding": {
           "x": {"field": "t", "type": "quantitative", "scale": {"domain": [0, 70], "nice": false}, "axis": {"title": "Test time [s]", "values": [0,10,20,30,40,50,60,70]}},
           "y": {"field": "s", "type": "quantitative", "scale": {"domain": [0, 300], "nice": false}, "axis": null},
           "text": {"field": "txt"},
           "color": {"field": "c", "type": "nominal", "scale": {"domain": ["box","stress","temp","grad"], "range": ["#000000","#808080","#0072BD","#CC0000"]}, "legend": null}}},
        {"data": {"name": "points"}, "transform": [{"filter": "datum.p == 'b' && datum.k == 'circle'"}], "mark": {"type": "point", "shape": "circle", "size": 170, "filled": false, "stroke": "#0072BD", "strokeWidth": 2.5, "opacity": 1},
         "encoding": {
           "x": {"field": "t", "type": "quantitative", "scale": {"domain": [0, 70], "nice": false}, "axis": {"title": "Test time [s]", "values": [0,10,20,30,40,50,60,70]}},
           "y": {"field": "s", "type": "quantitative", "scale": {"domain": [0, 300], "nice": false}, "axis": null}}},
        {"data": {"name": "points"}, "transform": [{"filter": "datum.p == 'b' && datum.k == 'cross'"}], "mark": {"type": "point", "shape": "M-1,-1L1,1M-1,1L1,-1", "size": 130, "filled": false, "stroke": "#CC0000", "strokeWidth": 2.2, "opacity": 1},
         "encoding": {
           "x": {"field": "t", "type": "quantitative", "scale": {"domain": [0, 70], "nice": false}, "axis": {"title": "Test time [s]", "values": [0,10,20,30,40,50,60,70]}},
           "y": {"field": "s", "type": "quantitative", "scale": {"domain": [0, 300], "nice": false}, "axis": null}}}
      ]
    }
  ]
}
